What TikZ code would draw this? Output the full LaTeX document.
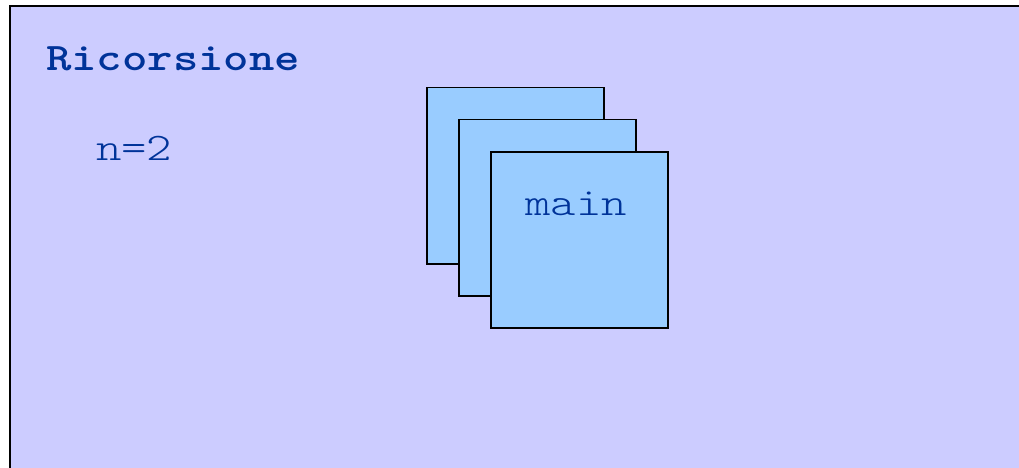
\documentclass[tikz,border=0pt]{standalone}
\usepackage{fontspec}
\newfontfamily\mytt[Extension=.otf,UprightFont=lmmonolt10-regular,BoldFont=lmmonolt10-bold,FakeStretch=1.24]{lmmonolt10-regular}
\definecolor{bgcol}{HTML}{CCCCFF}
\definecolor{boxcol}{HTML}{99CCFF}
\definecolor{txtcol}{HTML}{003399}
\begin{document}
\begin{tikzpicture}[x=1pt,y=-1pt,
  frame/.style={draw=black,line width=2pt,fill=bgcol},
  stackbox/.style={draw=black,line width=1.5pt,fill=boxcol,minimum width=177pt,minimum height=176pt,inner sep=0pt,anchor=north west},
  txt/.style={text=txtcol,font=\mytt\fontsize{39}{39}\selectfont,inner sep=0pt,anchor=base west}]
\useasboundingbox (0,0) rectangle (1019,468);
\fill[white] (0,0) rectangle (1019,468);
\draw[frame] (10,6) rectangle (1040,490);
\node[txt,font=\mytt\bfseries\fontsize{39}{39}\selectfont] (title) at (46,71) {Ricorsione};
\node[txt] (n) at (96,160) {n=2};
\node[stackbox] (b1) at (426,87) {};
\node[stackbox] (b2) at (458,119) {};
\node[stackbox] (b3) at (490,151) {};
\node[txt,anchor=base] (main) at (576,215) {main};
\end{tikzpicture}
\end{document}
